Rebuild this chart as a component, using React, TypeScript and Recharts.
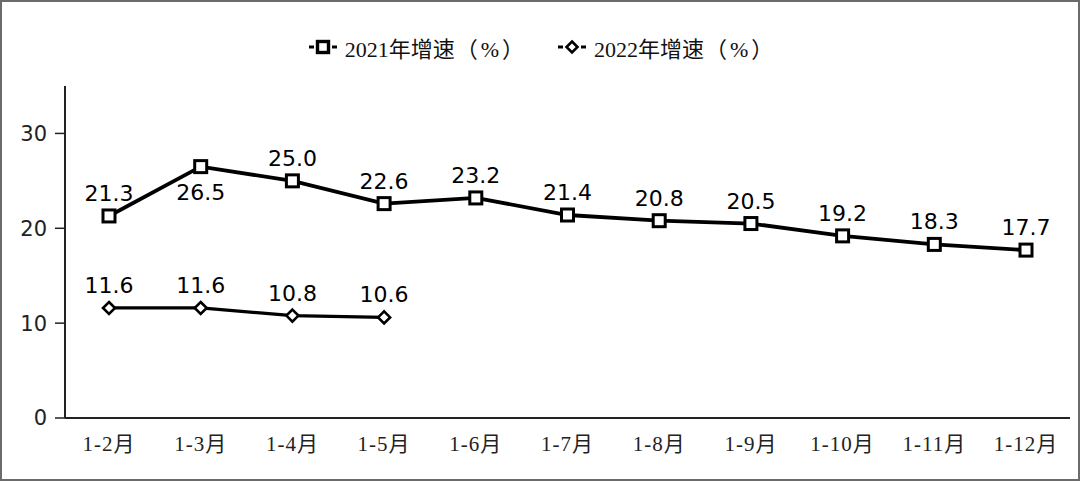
import { LineChart, Line, XAxis, YAxis, LabelList } from 'recharts';

const months = ['1-2月', '1-3月', '1-4月', '1-5月', '1-6月', '1-7月', '1-8月', '1-9月', '1-10月', '1-11月', '1-12月'];
const growth2021 = [21.3, 26.5, 25.0, 22.6, 23.2, 21.4, 20.8, 20.5, 19.2, 18.3, 17.7];
const growth2022 = [11.6, 11.6, 10.8, 10.6];
const yTicks = [0, 10, 20, 30];

const data = months.map((m, i) => ({
  month: m,
  y2021: growth2021[i],
  y2022: i < growth2022.length ? growth2022[i] : null,
}));

const sansFont = '"DejaVu Sans", Verdana, sans-serif';
const serifFont = '"Liberation Serif", "DejaVu Serif", "Noto Sans CJK SC", serif';

const SquareDot = (props: any) => {
  const { cx, cy } = props;
  if (cx == null || cy == null) return null;
  return <rect x={cx - 6} y={cy - 6} width={12} height={12} fill="#fff" stroke="#000" strokeWidth={3} />;
};

const DiamondDot = (props: any) => {
  const { cx, cy, value } = props;
  if (cx == null || cy == null || value == null) return null;
  return (
    <path
      d={`M${cx},${cy - 6} L${cx + 6},${cy} L${cx},${cy + 6} L${cx - 6},${cy} Z`}
      fill="#fff"
      stroke="#000"
      strokeWidth={2.6}
    />
  );
};

// 26.5 sits under its point, the rest above
const label2021 = (props: any) => {
  const { x, y, value, index } = props;
  const below = index === 1;
  return (
    <text
      x={x}
      y={below ? y + 33 : y - 15}
      textAnchor="middle"
      fontFamily={sansFont}
      fontSize={22}
      fill="#000"
    >
      {Number(value).toFixed(1)}
    </text>
  );
};

const label2022 = (props: any) => {
  const { x, y, value } = props;
  if (value == null) return null;
  return (
    <text x={x} y={y - 15} textAnchor="middle" fontFamily={sansFont} fontSize={22} fill="#000">
      {Number(value).toFixed(1)}
    </text>
  );
};

function LegendIcon({ kind }: { kind: 'square' | 'diamond' }) {
  return (
    <svg width={30} height={20} style={{ marginRight: 7 }}>
      <line x1={1} y1={10} x2={6} y2={10} stroke="#000" strokeWidth={3} />
      <line x1={24} y1={10} x2={29} y2={10} stroke="#000" strokeWidth={3} />
      {kind === 'square' ? (
        <rect x={9.5} y={4.5} width={11} height={11} fill="#fff" stroke="#000" strokeWidth={3.4} />
      ) : (
        <path d="M15,4.5 L20.5,10 L15,15.5 L9.5,10 Z" fill="#fff" stroke="#000" strokeWidth={2.6} />
      )}
    </svg>
  );
}

function LegendBar() {
  const itemStyle = { display: 'flex', alignItems: 'center', fontFamily: serifFont, fontSize: 22, color: '#111' };
  const parenStyle = { letterSpacing: 3, marginLeft: 1 };
  return (
    <div style={{ position: 'absolute', top: 29, left: 0, width: 1080, display: 'flex', justifyContent: 'center', gap: 30 }}>
      <div style={itemStyle}>
        <LegendIcon kind="square" />
        <span>2021年增速</span>
        <span style={parenStyle}>（%）</span>
      </div>
      <div style={itemStyle}>
        <LegendIcon kind="diamond" />
        <span>2022年增速</span>
        <span style={parenStyle}>（%）</span>
      </div>
    </div>
  );
}

export default function App() {
  return (
    <div
      style={{
        position: 'fixed',
        left: 0,
        top: 0,
        width: 1080,
        height: 481,
        boxSizing: 'border-box',
        border: '2px solid #6b6b6b',
        background: '#fff',
      }}
    >
      <LegendBar />
      <div style={{ position: 'absolute', left: -2, top: -2 }}>
        <LineChart width={1080} height={481} data={data} margin={{ top: 86, right: 10, bottom: 0, left: 0 }}>
          <XAxis
            dataKey="month"
            height={63}
            padding={{ left: 44, right: 44 }}
            tickLine={false}
            axisLine={{ stroke: '#222', strokeWidth: 2 }}
            tick={{ fontFamily: serifFont, fontSize: 21, fill: '#222', letterSpacing: 1 }}
            tickMargin={12}
          />
          <YAxis
            width={65}
            domain={[0, 35]}
            ticks={yTicks}
            interval={0}
            axisLine={{ stroke: '#222', strokeWidth: 2 }}
            tickLine={{ stroke: '#222', strokeWidth: 1.5 }}
            tickSize={10}
            tick={{ fontFamily: sansFont, fontSize: 21, fill: '#222' }}
            tickMargin={8}
          />
          <Line
            dataKey="y2021"
            stroke="#000"
            strokeWidth={3.8}
            dot={<SquareDot />}
            activeDot={false}
            isAnimationActive={false}
          >
            <LabelList dataKey="y2021" content={label2021} />
          </Line>
          <Line
            dataKey="y2022"
            stroke="#000"
            strokeWidth={3.2}
            dot={<DiamondDot />}
            activeDot={false}
            connectNulls={false}
            isAnimationActive={false}
          >
            <LabelList dataKey="y2022" content={label2022} />
          </Line>
        </LineChart>
      </div>
    </div>
  );
}
